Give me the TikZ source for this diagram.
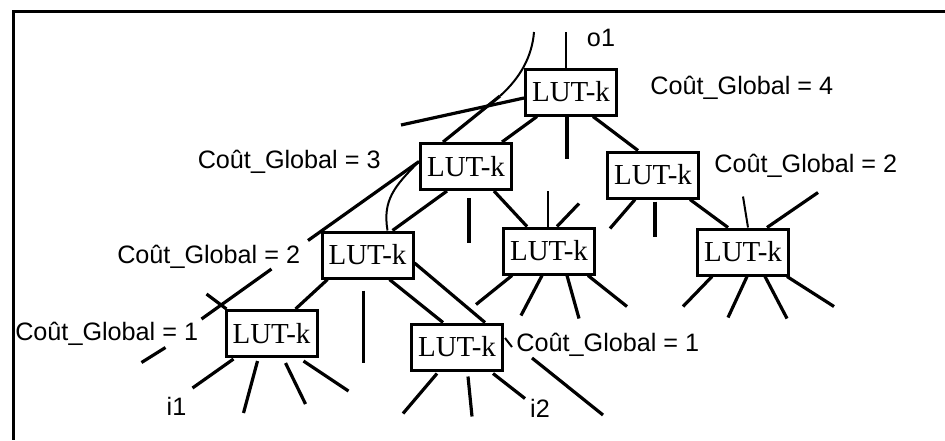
\documentclass[tikz,border=0pt]{standalone}
\usepackage{fontspec}
\setmainfont{Liberation Serif}
\setsansfont{Liberation Sans}
\usetikzlibrary{positioning}

\tikzset{
  lut/.style={draw, line width=1.5pt, minimum width=45.5pt, minimum height=23pt,
    inner sep=0pt, fill=white, font=\fontsize{14.5}{16}\selectfont},
  cost/.style={inner sep=1pt, font=\sffamily\fontsize{12.6}{14}\selectfont},
  wire/.style={line width=1.6pt},
  fine/.style={line width=1pt},
}

\begin{document}
\begin{tikzpicture}[x=0.5pt, y=-0.5pt]
\useasboundingbox (0,0) rectangle (945,440);
\draw[line width=1.5pt] (945,11) -- (13,11) -- (13,440);

% the LUT-k of the cover
\node[lut] (T) at (571,92) {LUT-k};
\node[lut] (A) at (466,166.5) {LUT-k};
\node[lut] (B) at (653,175) {LUT-k};
\node[lut] (C) at (367.5,255) {LUT-k};
\node[lut] (D) at (549,251) {LUT-k};
\node[lut] (E) at (743,252) {LUT-k};
\node[lut] (F) at (271.5,333.5) {LUT-k};
\node[lut] (G) at (457,347) {LUT-k};

% costs
\node[cost, right=15pt of T, yshift=2pt] (cost4) {Coût\_Global = 4};
\node[cost, left=18pt of A, yshift=2.5pt] (cost3) {Coût\_Global = 3};
\node[cost, right=6pt of B, yshift=4.5pt] (cost2r) {Coût\_Global = 2};
\node[cost, left=9pt of C, yshift=-1pt] (cost2l) {Coût\_Global = 2};
\node[cost, left=12pt of F] (cost1l) {Coût\_Global = 1};
\node[cost, right=5pt of G, yshift=1pt] (cost1r) {Coût\_Global = 1};
\node[cost, above=9pt of T, xshift=15pt] (o1) {o1};
\node[cost] (i1) at ([shift={(-95,48)}]F.south) {i1};
\node[cost] (i2) at ([shift={(83,37)}]G.south) {i2};

% top LUT
\draw[fine] (T.north) ++(-5,0) -- ++(0,-36);
\draw[wire] (T.west) ++(0,6) -- ++(-123,27);
\draw[wire] ([shift={(-34,0)}]T.south) -- ([shift={(36,0)}]A.north);
\draw[wire] (T.south) ++(-4,0) -- ++(0,42);
\draw[wire] ([shift={(22,0)}]T.south) -- ([shift={(-15,0)}]B.north);
\draw[wire] ([shift={(-23,0)}]A.north) -- ++(57,-46) coordinate (kink);
\draw[fine] (kink) .. controls +(20,-18) and +(-2,25) .. ++(34,-64);

% left LUT, level 2
\draw[wire] ([shift={(0,-5)}]A.west) -- ++(-111,79);
\draw[fine] ([shift={(0,-5)}]A.west) .. controls +(-25,25) and +(-5,-30) .. ([shift={(20,0)}]C.north);
\draw[wire] ([shift={(-19,0)}]A.south) -- ([shift={(25,0)}]C.north);
\draw[wire] (A.south) ++(3,7) -- ++(0,45);
\draw[wire] ([shift={(28,0)}]A.south) -- ([shift={(-22,0)}]D.north);

% right LUT, level 2
\draw[wire] (B.south) ++(-18,0) -- ++(-25,29);
\draw[wire] (B.south) ++(2,2) -- ++(0,35);
\draw[wire] ([shift={(37,0)}]B.south) -- ([shift={(-15,0)}]E.north);

% middle LUT
\draw[fine] (D.north) ++(-1,0) -- ++(0,-36);
\draw[wire] (D.north) ++(8,0) -- ++(22,-23);
\draw[wire] (D.south) ++(-37,0) -- ++(-36,29);
\draw[wire] (D.south) ++(-7,0) -- ++(-21,40);
\draw[wire] (D.south) ++(18,0) -- ++(12,43);
\draw[wire] (D.south) ++(39,0) -- ++(39,31);

% right LUT, level 3
\draw[fine] (E.north) ++(5,0) -- ++(-5,-31);
\draw[wire] (E.north) ++(24,0) -- ++(51,-35);
\draw[wire] (E.south) ++(-31,0) -- ++(-29,30);
\draw[wire] (E.south) ++(4,0) -- ++(-19,41);
\draw[wire] (E.south) ++(22,0) -- ++(22,42);
\draw[wire] (E.south) ++(44,0) -- ++(47,30);

% left LUT, level 3
\draw[wire] ([shift={(-40,0)}]C.south) -- ([shift={(24,0)}]F.north);
\draw[wire] (C.south) ++(-4,11) -- ++(0,72);
\draw[wire] ([shift={(22,0)}]C.south) -- ([shift={(-14,0)}]G.north);
\draw[wire] ([shift={(0,8)}]C.east) -- ([shift={(28,0)}]G.north);

% bottom left LUT
\draw[wire] (F.north west) ++(47,-40) -- ++(-70,50);
\draw[wire] (F.north west) ++(2,0) -- ++(-20,-15);
\draw[wire] (F.west) ++(-59,14) -- ++(-24,15);
\draw[wire] (F.south) ++(-38,1) -- ++(-41,29);
\draw[wire] (F.south) ++(-14,3) -- ++(-14,52);
\draw[wire] (F.south) ++(14,5) -- ++(20,41);
\draw[wire] (F.south) ++(32,3) -- ++(45,30);

% bottom middle LUT
\draw[fine] (G.east) ++(1,-9) -- ++(7,9);
\draw[wire] (G.south) ++(-20,2) -- ++(-34,40);
\draw[wire] (G.south) ++(11,5) -- ++(4,40);
\draw[wire] (G.south) ++(36,2) -- ++(32,25);
\draw[wire] (G.east) ++(28,11) -- ++(71,57);
\end{tikzpicture}
\end{document}
